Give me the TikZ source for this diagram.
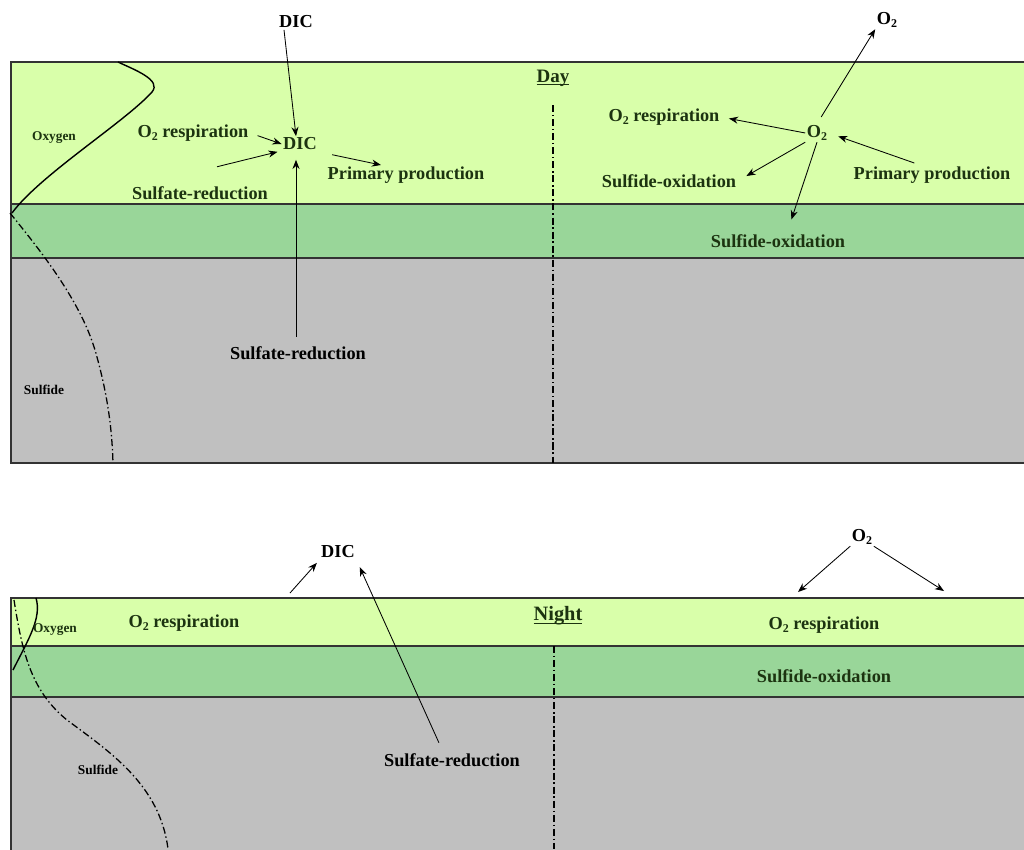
\documentclass[tikz,border=0pt]{standalone}
\usepackage{fontspec}
\setmainfont{Liberation Serif}
\usepackage{tikz}
\usetikzlibrary{arrows.meta, calc}
\definecolor{oxicLayer} {HTML}{D9FFAA}
\definecolor{chemoLayer}{HTML}{99D699}
\definecolor{anoxLayer} {HTML}{C0C0C0}
\definecolor{cInk}      {HTML}{1C3310}
\definecolor{cEdge}     {HTML}{333333}
\newcommand{\oxy}{O\raisebox{-0.35ex}{\fontsize{8.5}{9}\selectfont 2}}
\newcommand{\ulbase}[1]{\setbox0\hbox{#1}\rlap{\rule[-2pt]{\wd0}{0.7pt}}\box0}

\begin{document}
\begin{tikzpicture}[x=0.025cm, y=-0.025cm,
    lbl/.style={font=\bfseries\fontsize{13}{15}\selectfont, inner sep=1pt},
    glbl/.style={lbl, text=cInk},
    smalllbl/.style={font=\bfseries\fontsize{9.5}{11}\selectfont, inner sep=1pt},
    flux/.style={-{Stealth[length=6.5pt,width=5pt]}, line width=0.6pt},
    profile/.style={line width=1pt},
    dashdotline/.style={line width=0.9pt, dash pattern=on 5pt off 2pt on 1pt off 2pt},
    layer/.style={draw=cEdge, line width=0.8pt}]
  \useasboundingbox (0,0) rectangle (1024,849);
  \clip (0,0) rectangle (1024,849);

  % ---- day ----
  \draw[layer, fill=oxicLayer]  (11,62)  rectangle (1030,204);
  \draw[layer, fill=chemoLayer] (11,204) rectangle (1030,258);
  \draw[layer, fill=anoxLayer]  (11,258) rectangle (1030,463);
  \draw[dashdotline] (553,105) -- (553,463);
  \draw[profile] (118,62) .. controls (135,70) and (162,80) .. (152,92)
                 .. controls (125,122) and (40,175) .. (12,213);
  \draw[dashdotline] (10,213) .. controls (40,250) and (80,300) .. (95,350)
                     .. controls (108,395) and (112,430) .. (113,463);

  \node[lbl, font=\bfseries\fontsize{13.5}{15}\selectfont, text=cInk] (dayLbl) at (553,78) {\ulbase{Day}};
  \node[smalllbl, text=cInk] (oxyDay) at (54,138) {Oxygen};
  \node[smalllbl] (sulfideDay) at (44,390) {Sulfide};

  \node[lbl]  (dicTop)      at (296,22)  {DIC};
  \node[glbl] (dicDay)      at (300,144) {DIC};
  \node[glbl] (respDay)     at (193,133) {\oxy\ respiration};
  \node[glbl] (sulfRedDay)  at (200,193) {Sulfate-reduction};
  \node[glbl] (primDay)     at (406,175) {Primary production};
  \node[lbl]  (sulfRedDeep) at (298,353) {Sulfate-reduction};

  \draw[flux] ([xshift=-0.3cm]dicTop.south) -- ([xshift=-0.1cm]dicDay.north);
  \draw[flux, shorten <=0.2cm] (respDay.east) -- (dicDay.west);
  \draw[flux] ([shift={(0.425cm,0.45cm)}]sulfRedDay.north) -- ([xshift=-0.1cm]dicDay.south west);
  \draw[flux, shorten <=0.2cm, shorten >=0.2cm] ([xshift=-0.05cm]sulfRedDeep.north) -- ([xshift=-0.05cm]sulfRedDeep.north |- dicDay.south);
  \draw[flux, shorten <=0.35cm] (dicDay.south east) -- ([xshift=-0.625cm]primDay.north);

  \node[lbl]  (o2Top)      at (887,20)  {\oxy};
  \node[glbl] (o2Day)      at (817,133) {\oxy};
  \node[glbl] (respRight)  at (664,117) {\oxy\ respiration};
  \node[glbl] (sulfOxDay)  at (669,181) {Sulfide-oxidation};
  \node[glbl] (primRight)  at (932,175) {Primary production};
  \node[glbl] (sulfOxMid)  at (778,241) {Sulfide-oxidation};

  \draw[flux, shorten <=0.2cm] (o2Day.north) -- (o2Top.south west);
  \draw[flux, shorten >=0.2cm] (o2Day.west) -- (respRight.east);
  \draw[flux, shorten <=0.15cm, shorten >=0.25cm] ([xshift=-0.3cm]primRight.north) -- (o2Day.east);
  \draw[flux, shorten >=0.25cm] (o2Day.south west) -- (sulfOxDay.east);
  \draw[flux, shorten >=0.35cm] (o2Day.south) -- ([xshift=0.225cm]sulfOxMid.north);

  % ---- night ----
  \draw[layer, fill=oxicLayer]  (11,598) rectangle (1030,646);
  \draw[layer, fill=chemoLayer] (11,646) rectangle (1030,697);
  \draw[layer, fill=anoxLayer]  (11,697) rectangle (1030,860);
  \draw[dashdotline] (554,646) -- (554,849);
  \draw[profile] (36,598) .. controls (42,618) and (28,640) .. (13,670);
  \draw[dashdotline] (14,600) .. controls (22,650) and (30,690) .. (67,720)
                     .. controls (110,752) and (160,785) .. (168,849);

  \node[lbl, font=\bfseries\fontsize{14.5}{16}\selectfont, text=cInk] (nightLbl) at (558,616) {\ulbase{Night}};
  \node[smalllbl, text=cInk] (oxyNight) at (55,630) {Oxygen};
  \node[smalllbl] (sulfideNight) at (98,770) {Sulfide};

  \node[lbl]  (dicNight)     at (338,552) {DIC};
  \node[glbl] (respNight)    at (184,623) {\oxy\ respiration};
  \node[lbl]  (sulfRedNight) at (452,760) {Sulfate-reduction};
  \coordinate (dicSrc) at (290,593);
  \draw[flux, shorten >=0.1cm] (dicSrc) -- (dicNight.south west);
  \draw[flux, shorten <=0.25cm, shorten >=0.2cm] ([xshift=-0.225cm]sulfRedNight.north) -- (dicNight.south east);

  \node[lbl]  (o2Night)     at (862,537) {\oxy};
  \node[glbl] (respNightR)  at (824,625) {\oxy\ respiration};
  \node[glbl] (sulfOxNight) at (824,676) {Sulfide-oxidation};
  \coordinate (o2SinkL) at (798,592);
  \coordinate (o2SinkR) at (944,591);
  \draw[flux] (o2Night.south west) -- (o2SinkL);
  \draw[flux] (o2Night.south east) -- (o2SinkR);
\end{tikzpicture}
\end{document}
